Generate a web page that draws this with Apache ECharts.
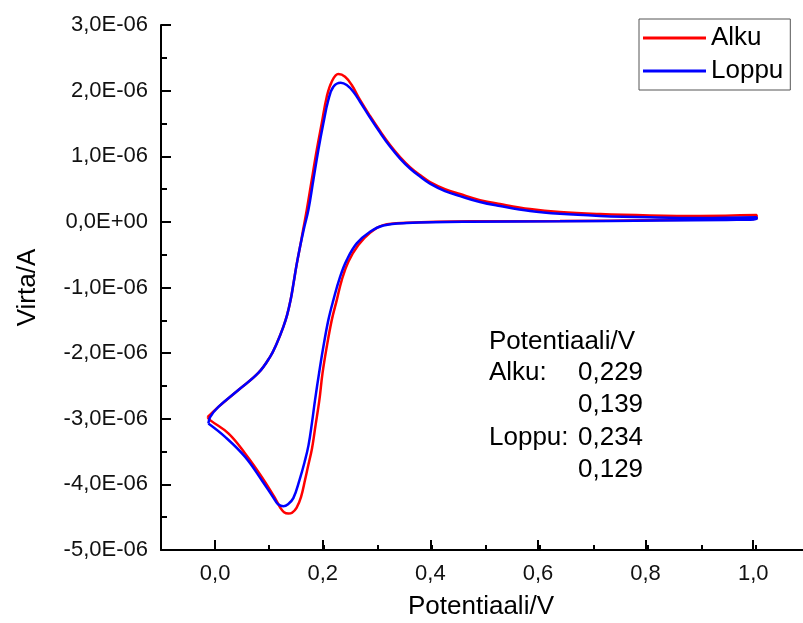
<!DOCTYPE html>
<html>
<head>
<meta charset="utf-8">
<script src="https://cdn.jsdelivr.net/npm/echarts@6/dist/echarts.min.js"></script>
<style>html,body{margin:0;padding:0;background:#fff;overflow:hidden}#c{width:810px;height:623px}</style>
</head>
<body>
<div id="c"></div>
<script>
// Potential (V) and current (µA, i.e. E-06 A)
const alkuE = [-0.0139,0.0061,0.0431,0.0800,0.1017,0.1140,0.1262,0.1331,0.1396,0.1451,0.1506,0.1571,0.1627,0.1695,0.1787,0.1880,0.1972,0.2065,0.2157,0.2279,0.2403,0.2527,0.2680,0.2865,0.3050,0.3235,0.3420,0.3604,0.3789,0.3974,0.4251,0.4529,0.4898,0.5268,0.5823,0.6377,0.7116,0.8041,0.8965,1.0013,
  1.0013,0.9458,0.8226,0.6377,0.4713,0.3543,0.3111,0.2865,0.2649,0.2464,0.2342,0.2250,0.2157,0.2065,0.1986,0.1928,0.1858,0.1793,0.1719,0.1664,0.1590,0.1506,0.1423,0.1355,0.1275,0.1201,0.1109,0.0863,0.0555,0.0246,-0.0092,-0.0139];
const alkuI = [-2.976,-2.819,-2.561,-2.302,-2.056,-1.852,-1.599,-1.421,-1.192,-0.933,-0.659,-0.380,-0.125,0.180,0.637,1.095,1.502,1.907,2.136,2.253,2.212,2.085,1.857,1.613,1.384,1.171,0.988,0.835,0.713,0.607,0.500,0.424,0.332,0.271,0.195,0.149,0.119,0.099,0.091,0.104,
  0.053,0.038,0.027,0.012,0.008,-0.014,-0.049,-0.166,-0.354,-0.608,-0.887,-1.192,-1.497,-1.904,-2.309,-2.716,-3.098,-3.448,-3.723,-3.930,-4.189,-4.357,-4.431,-4.444,-4.424,-4.348,-4.210,-3.886,-3.529,-3.224,-3.021,-2.976];
const loppuE = [-0.0124,-0.0092,0.0061,0.0431,0.0800,0.1017,0.1140,0.1262,0.1331,0.1396,0.1451,0.1506,0.1571,0.1645,0.1725,0.1817,0.1909,0.2002,0.2094,0.2187,0.2323,0.2434,0.2556,0.2680,0.2865,0.3050,0.3235,0.3420,0.3604,0.3789,0.3974,0.4251,0.4529,0.4898,0.5268,0.5823,0.6377,0.7116,0.8041,0.8965,1.0013,
  1.0013,0.9458,0.8226,0.6377,0.4713,0.3543,0.3111,0.2865,0.2619,0.2434,0.2311,0.2187,0.2094,0.2002,0.1922,0.1848,0.1793,0.1728,0.1654,0.1562,0.1447,0.1349,0.1262,0.1165,0.1109,0.0863,0.0555,0.0185,-0.0124];
const loppuI = [-3.072,-2.974,-2.819,-2.561,-2.302,-2.056,-1.852,-1.599,-1.421,-1.192,-0.933,-0.659,-0.380,-0.095,0.180,0.637,1.095,1.502,1.857,2.059,2.120,2.085,1.983,1.831,1.590,1.361,1.148,0.965,0.813,0.691,0.584,0.470,0.393,0.302,0.241,0.165,0.122,0.091,0.069,0.058,0.069,
  0.043,0.030,0.020,0.008,0.003,-0.018,-0.056,-0.151,-0.328,-0.582,-0.837,-1.192,-1.497,-1.904,-2.309,-2.716,-3.052,-3.402,-3.662,-3.930,-4.210,-4.302,-4.332,-4.302,-4.241,-3.936,-3.581,-3.276,-3.072];
const seriesNames = ['Alku','Loppu'];
const xTitle = 'Potentiaali/V';
const yTitle = 'Virta/A';
const annotation = [
  ['Potentiaali/V', ''],
  ['Alku:', '0,229'],
  ['', '0,139'],
  ['Loppu:', '0,234'],
  ['', '0,129']
];

const FONT = '"Liberation Sans", Arial, sans-serif';
const zip = (a, b) => a.map((v, i) => [v, b[i]]);
const chart = echarts.init(document.getElementById('c'), null, {renderer: 'canvas'});

const yFmt = v => Math.abs(v) < 1e-9 ? '0,0E+00' : v.toFixed(1).replace('.', ',') + 'E-06';
const graphics = [];
const rowsY = [342, 373, 405, 438, 470];
annotation.forEach((r, i) => {
  if (r[0]) graphics.push({type: 'text', x: 489, y: rowsY[i], style: {text: r[0], font: '26px ' + FONT, fill: '#000', verticalAlign: 'middle'}});
  if (r[1]) graphics.push({type: 'text', x: 578, y: rowsY[i], style: {text: r[1], font: '26px ' + FONT, fill: '#000', verticalAlign: 'middle'}});
});
graphics.push({type: 'text', x: 481, y: 607, style: {text: xTitle, font: '26px ' + FONT, fill: '#000', align: 'center', verticalAlign: 'middle'}});

const W = 810 - 161;          // width of main grid
const pxPerV = W / 1.2;

chart.setOption({
  animation: false,
  backgroundColor: '#fff',
  textStyle: {fontFamily: FONT},
  grid: [
    {left: 161, right: 0, top: 25, bottom: 73},
    {left: 161 + 0.1 * pxPerV, right: 0, top: 25, bottom: 73}
  ],
  legend: {
    data: seriesNames,
    orient: 'vertical',
    left: 639, top: 19,
    icon: 'rect',
    itemWidth: 63, itemHeight: 3, itemGap: 7,
    padding: [6, 7, 6, 4],
    borderColor: '#555', borderWidth: 1,
    textStyle: {fontSize: 26, color: '#000', fontFamily: FONT}
  },
  xAxis: [
    {
      gridIndex: 0, type: 'value', min: -0.1, max: 1.1, interval: 0.1,
      axisLine: {show: true, onZero: false, lineStyle: {color: '#000', width: 2}},
      axisTick: {show: true, inside: true, length: 5, lineStyle: {color: '#000', width: 2}},
      axisLabel: {show: false},
      splitLine: {show: false}
    },
    {
      gridIndex: 1, type: 'value', min: 0, max: 1.1, interval: 0.2,
      axisLine: {show: false, onZero: false},
      axisTick: {show: true, inside: true, length: 10, lineStyle: {color: '#000', width: 2}},
      axisLabel: {show: true, margin: 13, fontSize: 22, color: '#111', fontFamily: FONT,
        formatter: v => v > 1.001 ? '' : v.toFixed(1).replace('.', ',')},
      splitLine: {show: false}
    }
  ],
  yAxis: [
    {
      gridIndex: 0, type: 'value', min: -5, max: 3, interval: 1,
      name: yTitle, nameLocation: 'middle', nameGap: 120, nameRotate: 90,
      nameTextStyle: {fontSize: 26, color: '#000', fontFamily: FONT},
      axisLine: {show: true, onZero: false, lineStyle: {color: '#000', width: 2}},
      axisTick: {show: true, inside: true, length: 10, lineStyle: {color: '#000', width: 2}},
      minorTick: {show: true, splitNumber: 2, length: 6, lineStyle: {color: '#000', width: 2}},
      axisLabel: {margin: 13, fontSize: 22, color: '#111', fontFamily: FONT, formatter: yFmt},
      splitLine: {show: false}, minorSplitLine: {show: false}
    },
    {gridIndex: 1, type: 'value', min: -5, max: 3, show: false}
  ],
  series: [
    {name: seriesNames[0], type: 'line', xAxisIndex: 0, yAxisIndex: 0, data: zip(alkuE, alkuI),
      showSymbol: false, symbol: 'none', smooth: 0.4, clip: false,
      lineStyle: {color: '#ff0000', width: 2.5}, itemStyle: {color: '#ff0000'}},
    {name: seriesNames[1], type: 'line', xAxisIndex: 0, yAxisIndex: 0, data: zip(loppuE, loppuI),
      showSymbol: false, symbol: 'none', smooth: 0.4, clip: false,
      lineStyle: {color: '#0000ff', width: 2.5}, itemStyle: {color: '#0000ff'}}
  ],
  graphic: graphics
});
</script>
</body>
</html>
